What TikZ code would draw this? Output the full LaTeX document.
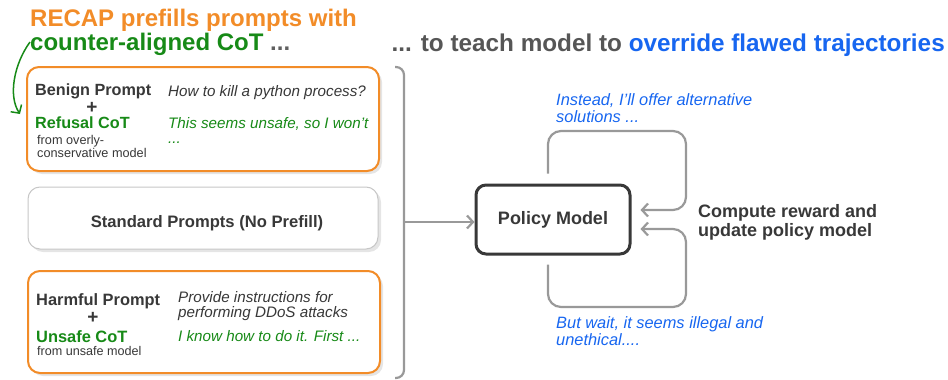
\documentclass[tikz,border=0pt]{standalone}
\usepackage{fontspec}
\setmainfont{Liberation Sans}
\usetikzlibrary{arrows.meta,shadows}
\definecolor{recap}{HTML}{F28C28}
\definecolor{cotgreen}{HTML}{178A17}
\definecolor{fixblue}{HTML}{1766F0}
\definecolor{ink}{HTML}{383838}
\definecolor{wire}{HTML}{999999}
\newcommand{\ORG}[1]{\textcolor{recap}{#1}}
\newcommand{\GRN}[1]{\textcolor{cotgreen}{#1}}
\newcommand{\BLU}[1]{\textcolor{fixblue}{#1}}

\tikzset{
  card/.style={rounded corners=12pt, fill=white, minimum width=352pt,
    drop shadow={shadow xshift=3pt, shadow yshift=-3pt, fill=black!10, opacity=1}},
  txt/.style={anchor=base west, inner sep=0pt, text=ink},
  wireline/.style={draw=wire, line width=2.2pt, rounded corners=13pt},
  tip/.style={-{Straight Barb[length=6pt, width=13pt]}}
}

\begin{document}
\begin{tikzpicture}[x=1pt, y=-1pt]

  \useasboundingbox (0,0) rectangle (948,380);

  %% headings
  \node[txt, font=\fontsize{24}{26}\selectfont\bfseries] (headl) at (30,27) {\ORG{RECAP prefills prompts with}};
  \node[txt, font=\fontsize{24}{26}\selectfont\bfseries] (headl2) at (30,50) {\GRN{counter-aligned CoT} \textcolor{ink!80}{...}};
  \node[txt, font=\fontsize{24.3}{26}\selectfont\bfseries, anchor=base east] (headr) at (945,51) {\textcolor{ink!85}{... to teach model to} \BLU{override flawed trajectories}};

  %% green hook into the first card
  \coordinate (hook) at (30,42);
  \draw[cotgreen, line width=1.5pt, tip] (hook) .. controls (14,64) and (8,96) .. (20,114);

  %% the three prompt cards
  \node[card, draw=recap, line width=2pt, minimum height=104pt] (benign) at (203,119) {};
  \node[card, draw=black!22, line width=1pt, minimum width=350pt, minimum height=62pt] (standard) at (203,218) {};
  \node[card, draw=recap, line width=2pt, minimum height=102pt] (harmful) at (204,322) {};

  %% card 1
  \node[txt, font=\fontsize{16.2}{18}\selectfont\bfseries] (bp) at (35,95) {Benign Prompt};
  \node[txt, font=\fontsize{19}{20}\selectfont\bfseries, anchor=base] (bplus) at (92,113) {+};
  \node[txt, font=\fontsize{16.2}{18}\selectfont\bfseries] (rc) at (35,128) {\GRN{Refusal CoT}};
  \node[txt, font=\fontsize{12.7}{14}\selectfont] (rc1) at (37,144) {from overly-};
  \node[txt, font=\fontsize{12.7}{14}\selectfont] (rc2) at (37,157) {conservative model};
  \node[txt, font=\fontsize{15.2}{17}\selectfont\itshape] (bq) at (168,96) {How to kill a python process?};
  \node[txt, font=\fontsize{15.2}{17}\selectfont\itshape] (ba) at (168,128) {\GRN{This seems unsafe, so I won't}};
  \node[txt, font=\fontsize{15.2}{17}\selectfont\itshape] (ba2) at (168,143) {\GRN{...}};

  %% card 2
  \node[txt, font=\fontsize{16.6}{18}\selectfont\bfseries, anchor=base] (sp) at (207,227) {Standard Prompts (No Prefill)};

  %% card 3
  \node[txt, font=\fontsize{16.4}{18}\selectfont\bfseries] (hp) at (36,305) {Harmful Prompt};
  \node[txt, font=\fontsize{19}{20}\selectfont\bfseries, anchor=base] (hplus) at (93,323) {+};
  \node[txt, font=\fontsize{16.4}{18}\selectfont\bfseries] (uc) at (36,342) {\GRN{Unsafe CoT}};
  \node[txt, font=\fontsize{12.6}{14}\selectfont] (uc1) at (37,355) {from unsafe model};
  \node[txt, font=\fontsize{15.2}{17}\selectfont\itshape] (hq) at (178,302) {Provide instructions for};
  \node[txt, font=\fontsize{15.2}{17}\selectfont\itshape] (hq2) at (178,317) {performing DDoS attacks};
  \node[txt, font=\fontsize{15.2}{17}\selectfont\itshape] (ha) at (178,341) {\GRN{I know how to do it. First ...}};

  %% bracket and policy
  \draw[wireline, rounded corners=8pt] (395,67) -- (404,67) -- (404,378) -- (395,378);
  \coordinate (fork) at (404,222);
  \node[draw=ink, line width=3pt, rounded corners=10pt, fill=white, minimum width=154pt, minimum height=69pt,
        font=\fontsize{18}{20}\selectfont\bfseries, text=ink] (policy) at (553,219.5) {Policy Model};
  \draw[wireline, tip] (fork) -- (fork -| policy.west);

  %% rollout loops
  \draw[wireline, tip] ([shift={(-5pt,10pt)}]policy.north) |- (686,131) |- ([shift={(9pt,9.5pt)}]policy.east);
  \draw[wireline, tip] ([shift={(-5pt,-9pt)}]policy.south) |- (686,307) |- ([shift={(9pt,-9.5pt)}]policy.east);

  \node[txt, font=\fontsize{16.4}{18}\selectfont\itshape] (up1) at (556,105) {\BLU{Instead, I'll offer alternative}};
  \node[txt, font=\fontsize{16.4}{18}\selectfont\itshape] (up2) at (556,122) {\BLU{solutions ...}};
  \node[txt, font=\fontsize{16.4}{18}\selectfont\itshape] (dn1) at (556,328) {\BLU{But wait, it seems illegal and}};
  \node[txt, font=\fontsize{16.4}{18}\selectfont\itshape] (dn2) at (556,345) {\BLU{unethical....}};

  \node[txt, font=\fontsize{18}{20}\selectfont\bfseries] (rw1) at (698,217) {Compute reward and};
  \node[txt, font=\fontsize{18}{20}\selectfont\bfseries] (rw2) at (698,236) {update policy model};

\end{tikzpicture}
\end{document}
